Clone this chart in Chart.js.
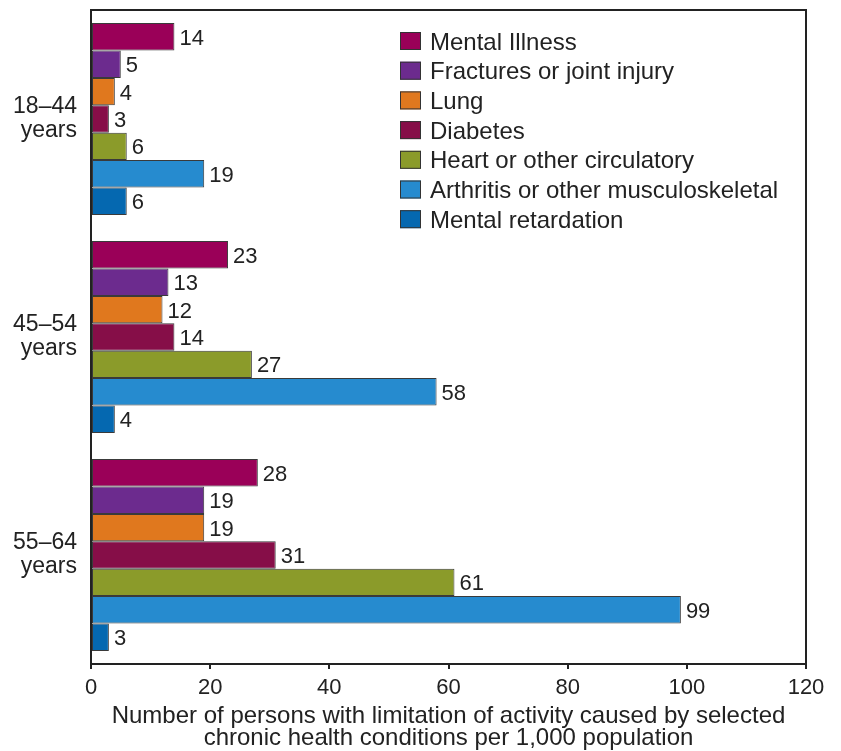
<!DOCTYPE html>
<html>
<head>
<meta charset="utf-8">
<script src="https://cdn.jsdelivr.net/npm/chart.js@4/dist/chart.umd.min.js"></script>
<style>
  html, body { margin: 0; padding: 0; background: #fff; }
  #wrap { width: 841px; height: 751px; }
</style>
</head>
<body>
<div id="wrap"><canvas id="chart" width="841" height="751"></canvas></div>
<script>
const ageGroups = [["18–44", "years"], ["45–54", "years"], ["55–64", "years"]];
const conditions = [
  "Mental Illness",
  "Fractures or joint injury",
  "Lung",
  "Diabetes",
  "Heart or other circulatory",
  "Arthritis or other musculoskeletal",
  "Mental retardation"
];
const mentalIllness = [14, 23, 28];
const fractures = [5, 13, 19];
const lung = [4, 12, 19];
const diabetes = [3, 14, 31];
const heart = [6, 27, 61];
const arthritis = [19, 58, 99];
const retardation = [6, 4, 3];
const xTicks = [0, 20, 40, 60, 80, 100, 120];

const seriesValues = [mentalIllness, fractures, lung, diabetes, heart, arthritis, retardation];
const colors = ["#9a0058", "#6c2b8e", "#e0781e", "#860e48", "#8b9b2a", "#268bcf", "#0568b0"];

const FONT = "'Liberation Sans', Arial, Helvetica, sans-serif";
const INK = "#222";

// value labels at the end of each bar
const barLabels = {
  id: "barLabels",
  afterDatasetsDraw(chart) {
    const ctx = chart.ctx;
    ctx.save();
    ctx.font = "22px " + FONT;
    ctx.fillStyle = INK;
    ctx.textAlign = "left";
    ctx.textBaseline = "middle";
    chart.data.datasets.forEach((ds, i) => {
      chart.getDatasetMeta(i).data.forEach((bar, j) => {
        ctx.fillText(String(ds.data[j]), bar.x + 5, bar.y + 2);
      });
    });
    ctx.restore();
  }
};

// box round the plot and the legend inside it
const frameAndLegend = {
  id: "frameAndLegend",
  afterDraw(chart) {
    const ctx = chart.ctx;
    const a = chart.chartArea;
    ctx.save();
    ctx.strokeStyle = INK;
    ctx.lineWidth = 2;
    ctx.strokeRect(a.left, a.top, a.right - a.left, a.bottom - a.top);

    const x0 = 400, y0 = 32, step = 29.7;
    ctx.font = "24px " + FONT;
    ctx.textAlign = "left";
    ctx.textBaseline = "middle";
    chart.data.datasets.forEach((ds, i) => {
      const y = y0 + i * step;
      ctx.fillStyle = ds.backgroundColor;
      ctx.fillRect(x0, y, 21, 18);
      ctx.lineWidth = 1;
      ctx.strokeStyle = "#333";
      ctx.strokeRect(x0 + 0.5, y + 0.5, 20, 17);
      ctx.fillStyle = INK;
      ctx.fillText(ds.label, x0 + 30, y + 11);
    });
    ctx.restore();
  }
};

new Chart(document.getElementById("chart"), {
  type: "bar",
  data: {
    labels: ageGroups,
    datasets: conditions.map((name, i) => ({
      label: name,
      data: seriesValues[i],
      backgroundColor: colors[i],
      borderColor: "#3a3a3a",
      borderWidth: 1,
      borderSkipped: false,
      categoryPercentage: 0.88,
      barPercentage: 1.0
    }))
  },
  options: {
    indexAxis: "y",
    responsive: false,
    animation: false,
    layout: { padding: { top: 10, right: 35, left: 0, bottom: 0 } },
    plugins: {
      legend: { display: false },
      tooltip: { enabled: false }
    },
    scales: {
      x: {
        min: 0,
        max: 120,
        afterFit: (scale) => { scale.height = 87; },
        afterBuildTicks: (scale) => { scale.ticks = xTicks.map(v => ({ value: v })); },
        grid: {
          drawOnChartArea: false,
          drawTicks: true,
          tickLength: 5,
          color: INK,
          lineWidth: 2
        },
        border: { display: true, color: INK, width: 2 },
        ticks: {
          color: INK,
          font: { family: FONT, size: 22 },
          padding: 6,
          maxRotation: 0
        },
        title: {
          display: true,
          text: [
            "Number of persons with limitation of activity caused by selected",
            "chronic health conditions per 1,000 population"
          ],
          color: INK,
          font: { family: FONT, size: 24, lineHeight: 0.92 },
          padding: { top: 0, bottom: 2 }
        }
      },
      y: {
        afterFit: (scale) => {
          scale.width = 91;
          scale.paddingTop = 0;
          scale.paddingBottom = 0;
        },
        grid: { display: false, drawTicks: false },
        border: { display: true, color: INK, width: 2 },
        ticks: {
          color: INK,
          font: { family: FONT, size: 23, lineHeight: 1.05 },
          padding: 14
        }
      }
    }
  },
  plugins: [barLabels, frameAndLegend]
});
</script>
</body>
</html>
